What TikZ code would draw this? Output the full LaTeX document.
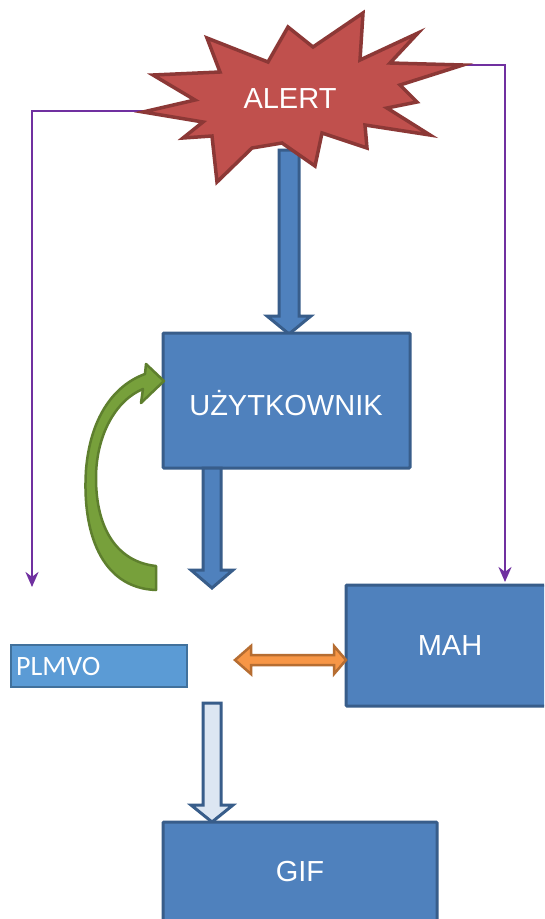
\documentclass[tikz,border=0pt]{standalone}
\usepackage{fontspec}
\setmainfont{Liberation Sans}
\newfontfamily\calib{Carlito}
\usetikzlibrary{arrows.meta}
\definecolor{boxblue}{HTML}{4F81BD}
\definecolor{boxedge}{HTML}{385D8A}
\definecolor{lightblue}{HTML}{5B9BD5}
\definecolor{lightedge}{HTML}{41719C}
\definecolor{starred}{HTML}{C0504D}
\definecolor{staredge}{HTML}{8C3836}
\definecolor{grn}{HTML}{77A03B}
\definecolor{grnedge}{HTML}{5E7F2E}
\definecolor{orng}{HTML}{F79646}
\definecolor{orngedge}{HTML}{B66D31}
\definecolor{purp}{HTML}{7030A0}
\definecolor{pale}{HTML}{DCE6F2}
\tikzset{
  bluebox/.style={draw=boxedge, fill=boxblue, line width=3pt, rounded corners=1pt},
  lbl/.style={text=white, font=\fontsize{29}{32}\selectfont, inner sep=0pt},
  blockarrow/.style={draw=boxedge, fill=boxblue, line width=3pt, line join=miter},
  palearrow/.style={draw=boxedge, fill=pale, line width=3pt, line join=miter},
  purpline/.style={draw=purp, line width=2.8pt, -{Stealth[length=15pt,width=13pt]}}
}
\newcommand{\blockdown}[7]{% style, cx, y0, yh, y1, shaft half, head half
  \draw[#1] (#2-#6,#3) -- (#2+#6,#3) -- (#2+#6,#4) -- (#2+#7,#4) -- (#2,#5)
    -- (#2-#7,#4) -- (#2-#6,#4) -- cycle;}
\begin{document}
\begin{tikzpicture}[x=1pt,y=-1pt]
\useasboundingbox (0,0) rectangle (544,919);
\clip (0,0) rectangle (544,919);
\fill[white] (0,0) rectangle (544,919);

% purple connectors (behind the star)
\coordinate (sl) at (150,111);
\coordinate (sr) at (458,65);
\coordinate (pl) at (32,587);
\coordinate (pr) at (505,582);
\draw[purpline] (sl) -- (32,111) -- (pl);
\draw[purpline] (sr) -- (505,65) -- (pr);

% top blue arrow (from star to user box)
\blockdown{blockarrow}{289}{150}{316}{334}{10}{22}

% star
\draw[fill=starred, draw=staredge, line width=3.5pt, line join=miter]
  (143,112) -- (195,100) -- (153,75) -- (220,72) -- (207,38) -- (268,62)
  -- (288,27) -- (313,47) -- (363,13) -- (360,60) -- (418,33) -- (390,63)
  -- (463,65) -- (400,85) -- (417,102) -- (387,108) -- (430,135) -- (365,125)
  -- (367,148) -- (322,133) -- (315,166) -- (282,143) -- (252,148)
  -- (217,182) -- (212,136) -- (183,138) -- (203,122) -- cycle;
\node[lbl] (alert) at (290,99) {ALERT};

% user box
\node[bluebox, minimum width=247pt, minimum height=135pt, inner sep=0pt] (user) at (286.5,400.5) {};
\node[lbl] (usertxt) at (286,403) {UŻYTKOWNIK};

% arrow down from user box
\blockdown{blockarrow}{212}{468}{570}{588}{9}{21}

% green curved arrow
\draw[fill=grn, draw=grnedge, line width=2.5pt, line join=round]
  (156,566) -- (156,590)
  .. controls (100,588) and (82,530) .. (86,470)
  .. controls (90,420) and (112,386) .. (145,374)
  -- (146,364) -- (164,381) -- (141,403) -- (143,389)
  .. controls (116,400) and (96,435) .. (96,478)
  .. controls (96,530) and (118,562) .. (156,566) -- cycle;

% PLMVO box
\node[draw=lightedge, fill=lightblue, line width=2pt, minimum width=176pt, minimum height=42pt, inner sep=0pt] (plm) at (99,666) {};
\node[text=white, font=\calib\fontsize{28}{31}\selectfont, anchor=west, inner sep=0pt] (plmtxt) at (16,667) {PLMVO};

% MAH box
\draw[bluebox] (346,585) rectangle (570,706);
\coordinate (mahleft) at (346,660);
\node[lbl] (mah) at (450,646) {MAH};

% orange double arrow
\coordinate (oa) at (235,660);
\draw[fill=orng, draw=orngedge, line width=2.5pt, line join=miter]
  (oa) -- (251,646) -- (251,655) -- (334,655) -- (334,646) -- (mahleft)
  -- (334,674) -- (334,665) -- (251,665) -- (251,674) -- cycle;

% pale arrow to GIF
\blockdown{palearrow}{212}{703}{805}{822}{9}{21}

% GIF box
\draw[bluebox] (163,822) rectangle (437,940);
\node[lbl] (gif) at (300,872) {GIF};
\end{tikzpicture}
\end{document}
